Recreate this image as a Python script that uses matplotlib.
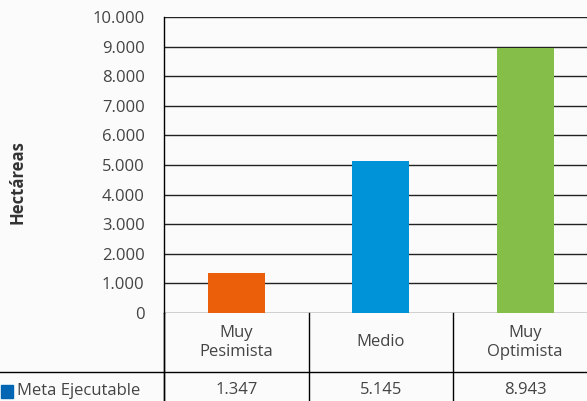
import matplotlib.pyplot as plt
from matplotlib.patches import Rectangle
from matplotlib.lines import Line2D
import numpy as np

# datos
escenarios = ['Muy\nPesimista', 'Medio', 'Muy\nOptimista']
meta_ejecutable = [1347, 5145, 8943]
etiquetas_valor = ['1.347', '5.145', '8.943']
colores = ['#EC5F0A', '#0093D8', '#86BE4A']
serie = 'Meta Ejecutable'
yticks = np.arange(0, 10001, 1000)

plt.rcParams['font.family'] = ['Open Sans', 'DejaVu Sans']
gris = '#444444'
fondo = '#FBFBFB'

W, H = 587, 401
fig = plt.figure(figsize=(W / 100, H / 100), dpi=100, facecolor=fondo)

# ejes principales (el borde derecho queda fuera de la imagen)
x0, y0, y1 = 164, 313, 17
col_w = 144.5
ax = fig.add_axes([x0 / W, (H - y0) / H, 3 * col_w / W, (y0 - y1) / H])
ax.set_facecolor(fondo)

x = np.arange(len(escenarios))
ax.bar(x, meta_ejecutable, width=0.395, color=colores, zorder=3)

ax.set_xlim(-0.5, len(escenarios) - 0.5)
ax.set_ylim(0, 10000)
ax.set_yticks(yticks)
ax.set_yticklabels([f'{v:,}'.replace(',', '.') for v in yticks])
ax.tick_params(axis='y', length=0, pad=14, labelsize=12, labelcolor=gris)
ax.tick_params(axis='x', length=0, labelbottom=False)
ax.grid(axis='y', color='#222222', linewidth=1, zorder=0)
for s in ['top', 'right', 'bottom']:
    ax.spines[s].set_visible(False)
ax.spines['left'].set_color('black')
ax.spines['left'].set_linewidth(1)

fig.text(18 / W, (H - 182) / H, 'Hectáreas', rotation=90, ha='center',
         va='center', fontsize=12, fontweight='bold', color='#333333')

# tabla de datos
y_bot = 408
tab = fig.add_axes([x0 / W, (H - y_bot) / H, 3 * col_w / W, (y_bot - y0) / H])
tab.set_xlim(ax.get_xlim())
tab.set_ylim(0, y_bot - y0)
tab.axis('off')
y_div = y_bot - 372
for b in np.arange(-0.5, len(escenarios) + 0.5, 1):
    tab.plot([b, b], [0, y_bot - y0], color='black', lw=1, clip_on=False)
fig.add_artist(Line2D([0, 1], [(H - 372) / H] * 2, color='black', lw=1))
fig.add_artist(Line2D([x0 / W] * 2, [0, (H - y0) / H], color='black', lw=1))

for i, (esc, val) in enumerate(zip(escenarios, etiquetas_valor)):
    tab.text(i, (y_bot - y0 + y_div) / 2, esc, ha='center', va='center',
             fontsize=12, color=gris, linespacing=1.3)
    tab.text(i, y_div / 2, val, ha='center', va='center', fontsize=12, color=gris)

fig.add_artist(Rectangle((1 / W, (H - 398) / H), 12 / W, 13 / H,
                         transform=fig.transFigure, color='#0065B3'))
fig.text(17 / W, (H - 391) / H, serie, ha='left', va='center',
         fontsize=12, color=gris)

fig.savefig('out.png', dpi=100, facecolor=fondo)
